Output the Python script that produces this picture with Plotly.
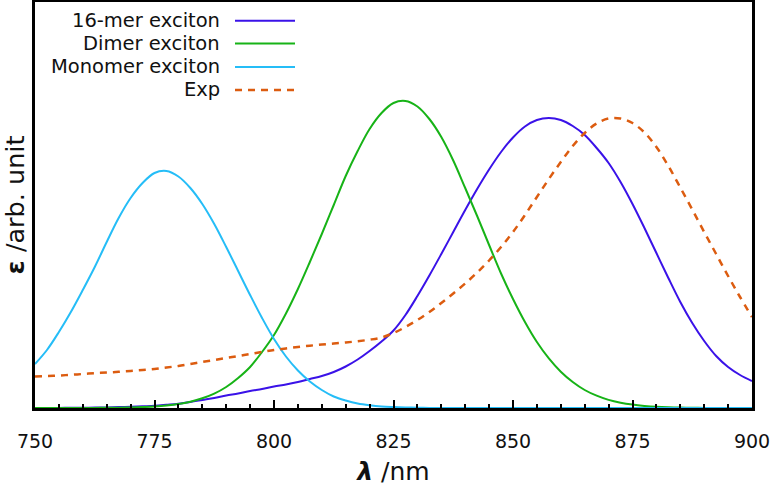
import plotly.graph_objects as go

# wavelengths (nm), 2.5 nm steps
wl = [750 + 2.5 * i for i in range(61)]

monomer = [44, 58, 76, 96, 118, 141, 166, 190, 210, 225,
           235, 237, 231.5, 220, 204, 184, 161, 137, 113, 90,
           69, 51.5, 37.5, 26.5, 18, 11.5, 7.5, 4.5, 2.7, 1.5,
           0.9, 0.5, 0.3, 0.1, 0, 0, 0, 0, 0, 0,
           0, 0, 0, 0, 0, 0, 0, 0, 0, 0,
           0, 0, 0, 0, 0, 0, 0, 0, 0, 0, 0]

dimer = [0, 0, 0, 0, 0.05, 0.1, 0.16, 0.3, 0.5, 0.9,
         1.5, 2.5, 4.0, 6.3, 9.7, 14.4, 21, 30, 41, 56,
         73, 94.5, 119, 146, 174, 203, 232, 257, 279, 295,
         305, 307, 301.5, 289, 271, 247.5, 220, 192, 163, 134.5,
         109, 86, 66, 49.6, 36.3, 26, 18, 12.3, 8.1, 5.3,
         3.4, 2.1, 1.2, 0.7, 0.4, 0.2, 0.1, 0.05, 0, 0, 0]

mer16 = [0, 0.05, 0.1, 0.2, 0.3, 0.45, 0.6, 0.9, 1.2, 1.7,
         2.2, 3.2, 4.3, 6, 8, 10, 12.5, 14.5, 17, 19,
         21.5, 23.5, 26, 29, 32, 36, 41.5, 48.5, 57, 66.5,
         77.5, 93, 112, 132.5, 154, 176, 198, 219, 238.5, 256,
         270.5, 281.5, 288, 290, 288, 282, 273, 260, 245, 226,
         204, 180, 155, 130, 106, 85, 67, 52, 41, 33, 27]

exp = [31.5, 32, 32.5, 33.2, 34, 34.8, 35.5, 36.2, 37, 38,
       39, 40.5, 42, 44, 46, 48, 50, 52, 54, 56,
       58, 59.5, 61, 62.3, 63.5, 64.5, 65.5, 66.8, 68.3, 70.5,
       75, 81, 88, 96, 105, 114.5, 124.5, 135.5, 147.5, 161,
       176, 193, 211, 229, 246, 262, 275, 284.5, 289.5, 289.5,
       285, 275.5, 261, 242, 220.5, 198.5, 176, 154, 132, 111, 91]

names = ["16-mer exciton", "Dimer exciton", "Monomer exciton", "Exp"]
colors = ["#3a12e8", "#17b317", "#25bdf7", "#dc5c10"]
dashes = ["solid", "solid", "solid", "7px,6px"]
widths = [2, 2, 2, 2.5]
series = [mer16, dimer, monomer, exp]

xticks = [750, 775, 800, 825, 850, 875, 900]

fig = go.Figure()
for s, c, d, w in zip(series, colors, dashes, widths):
    fig.add_trace(go.Scatter(x=wl, y=s, mode="lines",
                             line=dict(color=c, width=w, dash=d, shape="spline", smoothing=1.0),
                             showlegend=False))

# custom legend (text right, line sample to the right)
leg_y = [20.7, 43.5, 67, 90]
for n, c, d, w, yy in zip(names, colors, dashes, widths, leg_y):
    fy = 1 - (yy - 2) / 406
    fig.add_annotation(xref="paper", yref="paper", x=(222 - 35) / 717, y=fy, text=n, showarrow=False,
                       xanchor="right", yanchor="middle", font=dict(size=19.5, color="#111"))
    fig.add_shape(type="line", xref="paper", yref="paper", x0=(235 - 35) / 717, x1=(295 - 35) / 717,
                  y0=fy, y1=fy, line=dict(color=c, width=w, dash=d))

fig.update_layout(
    width=773, height=486,
    margin=dict(l=35, r=21, t=2, b=78),
    paper_bgcolor="white", plot_bgcolor="white",
    font=dict(family="DejaVu Sans", color="#111"),
    xaxis=dict(range=[750, 900], tickvals=xticks, ticktext=[str(t) for t in xticks],
               ticks="inside", ticklen=8, tickwidth=2, tickcolor="black",
               minor=dict(dtick=5, ticks="inside", ticklen=4, tickwidth=1.5, tickcolor="black"),
               showline=True, linecolor="black", linewidth=2.5, mirror=True, showgrid=False, zeroline=False,
               automargin=False, ticklabelstandoff=14,
               tickfont=dict(size=19), title=dict(text="<b><i>λ</i></b> /nm", font=dict(size=25), standoff=14)),
    yaxis=dict(range=[0, 406], showticklabels=False, ticks="", showline=True, linecolor="black",
               linewidth=2.5, mirror=True, showgrid=False, zeroline=False, automargin=False,
               title=dict(text="<b>ε</b> /arb. unit", font=dict(size=25.5), standoff=4)),
)

fig.write_html("out.html", config={"displayModeBar": False},
               post_script="document.body.style.margin='0';")
